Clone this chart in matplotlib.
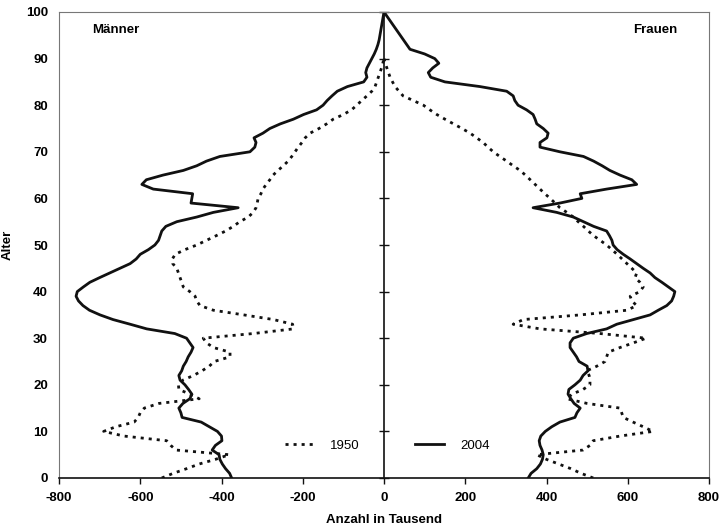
import matplotlib
matplotlib.use("Agg")
import matplotlib.pyplot as plt
import numpy as np

plt.rcParams['font.family'] = ['Liberation Sans', 'DejaVu Sans']

ages_2004 = list(range(0, 101))
ages_1950 = list(range(0, 91))

maenner_2004 = [
    -375, -380, -390, -398, -404, -406, -423, -415, -399, -400,
    -410, -430, -450, -497, -500, -505, -495, -478, -473, -481,
    -490, -502, -505, -498, -494, -487, -482, -475, -470, -478,
    -486, -515, -584, -625, -667, -699, -725, -741, -752, -758,
    -755, -740, -724, -700, -675, -650, -625, -610, -600, -580,
    -564, -555, -551, -547, -537, -510, -461, -420, -359, -475,
    -473, -471, -568, -596, -585, -544, -494, -461, -437, -404,
    -330, -318, -315, -320, -298, -281, -255, -223, -198, -166,
    -150, -140, -128, -115, -90, -50, -42, -45, -42, -36,
    -30, -24, -19, -15, -12, -10, -8, -6, -4, -2, 0]

frauen_2004 = [
    355, 362, 376, 385, 390, 392, 389, 384, 382, 386,
    397, 413, 433, 470, 475, 483, 468, 460, 453, 455,
    470, 483, 490, 502, 500, 480, 474, 466, 458, 458,
    466, 499, 548, 573, 614, 655, 675, 696, 708, 713,
    716, 700, 684, 667, 655, 638, 622, 606, 589, 574,
    564, 561, 555, 548, 516, 491, 466, 425, 367, 433,
    487, 483, 548, 622, 610, 581, 556, 537, 516, 491,
    433, 384, 384, 401, 404, 392, 376, 372, 367, 351,
    330, 322, 318, 302, 236, 150, 115, 109, 120, 135,
    125, 100, 64, 56, 48, 40, 32, 24, 16, 8, 0]

maenner_1950 = [
    -547, -519, -486, -455, -415, -381, -512, -525, -535, -640,
    -690, -660, -615, -605, -600, -590, -554, -455, -478, -505,
    -506, -495, -469, -448, -430, -418, -379, -379, -420, -437,
    -445, -322, -223, -225, -272, -345, -420, -453, -461, -465,
    -478, -494, -498, -502, -506, -510, -520, -521, -514, -490,
    -461, -437, -413, -390, -371, -355, -334, -322, -315, -312,
    -310, -303, -298, -290, -281, -273, -261, -248, -236, -227,
    -219, -211, -202, -194, -182, -160, -141, -125, -100, -80,
    -67, -55, -42, -30, -22, -18, -14, -10, -6, -3, 0]

frauen_1950 = [
    515, 485, 460, 430, 400, 376, 490, 507, 515, 581,
    662, 638, 613, 589, 585, 581, 500, 450, 463, 490,
    507, 507, 505, 499, 524, 544, 548, 552, 581, 614,
    645, 532, 384, 318, 343, 483, 598, 622, 610, 606,
    630, 638, 630, 618, 622, 610, 598, 586, 574, 561,
    548, 532, 516, 503, 491, 478, 466, 450, 433, 421,
    409, 396, 384, 372, 360, 348, 335, 318, 302, 285,
    269, 256, 244, 228, 212, 192, 171, 150, 130, 113,
    97, 72, 47, 37, 27, 21, 15, 11, 7, 3, 0]

x_ticks = [-800, -600, -400, -200, 0, 200, 400, 600, 800]
y_ticks = [0, 10, 20, 30, 40, 50, 60, 70, 80, 90, 100]

FS = 9.5

fig = plt.figure(figsize=(7.23, 5.29), dpi=100)
ax = fig.add_axes([59/723, 51/529, 650/723, 466/529])

dot_style = dict(color='#111111', lw=2.0, linestyle=(0, (1.1, 1.8)), dash_capstyle='butt')
solid_style = dict(color='#111111', lw=2.0, solid_joinstyle='round')

# central vertical axis line at x = 0
ax.axvline(0, color='#111111', lw=1.2, zorder=1)

l1950, = ax.plot(maenner_1950, ages_1950, label='1950', **dot_style)
ax.plot(frauen_1950, ages_1950, **dot_style)
l2004, = ax.plot(maenner_2004, ages_2004, label='2004', **solid_style)
ax.plot(frauen_2004, ages_2004, **solid_style)

ax.set_xlim(-800, 800)
ax.set_ylim(0, 100)
ax.set_xticks(x_ticks)
ax.set_yticks(y_ticks)
ax.set_xticklabels([str(v) for v in x_ticks], fontsize=FS, fontweight='bold')
ax.set_yticklabels([str(v) for v in y_ticks], fontsize=FS, fontweight='bold')

for s in ['left', 'top', 'right']:
    ax.spines[s].set_color('#777777')
    ax.spines[s].set_linewidth(0.8)
ax.spines['bottom'].set_color('#111111')
ax.spines['bottom'].set_linewidth(1.2)
ax.tick_params(axis='y', length=0, pad=8)
ax.tick_params(axis='x', direction='out', length=4, width=1, pad=6, color='#111111')

sec = ax.secondary_yaxis(0.5)
sec.set_yticks(y_ticks)
sec.tick_params(axis='y', direction='inout', length=7, width=1, labelleft=False,
                labelright=False, color='#111111')
for s in sec.spines.values():
    s.set_visible(False)

ax.set_xlabel('Anzahl in Tausend', fontsize=FS, fontweight='bold', labelpad=7)
ax.set_ylabel('Alter', fontsize=FS, fontweight='bold')
ax.yaxis.set_label_coords(-0.069, 0.5)

ax.text(0.051, 0.961, 'Männer', transform=ax.transAxes, fontsize=FS, fontweight='bold',
        ha='left', va='center')
ax.text(0.952, 0.961, 'Frauen', transform=ax.transAxes, fontsize=FS, fontweight='bold',
        ha='right', va='center')

leg = ax.legend(handles=[l1950, l2004], ncol=2, frameon=False, loc='center',
                bbox_to_anchor=(0.505, 0.069), fontsize=FS, handlelength=2.2,
                handletextpad=1.2, columnspacing=4.2)

fig.savefig('out.png', dpi=100, facecolor='white')
